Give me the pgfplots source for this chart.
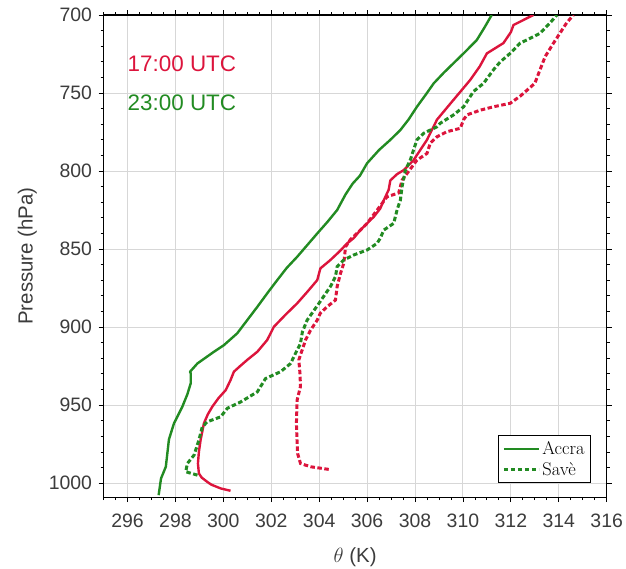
\documentclass[border=0pt]{standalone}
\usepackage{fontspec}
\usepackage{pgfplots}
\pgfplotsset{compat=1.18}
\newfontfamily\lab{Liberation Sans}
\definecolor{crim}{HTML}{DC143C}
\definecolor{fgreen}{HTML}{228B22}
\definecolor{tickgray}{RGB}{60,60,60}
\definecolor{gridgray}{RGB}{215,215,215}

\begin{document}
\begin{tikzpicture}
\begin{axis}[
  scale only axis,
  width=503bp, height=482bp,
  xmin=295, xmax=316,
  ymin=700, ymax=1009,
  y dir=reverse,
  xtick={296,298,...,316},
  ytick={700,750,...,1000},
  minor xtick={295,295.5,...,316},
  minor ytick={700,710,...,1000},
  tick align=outside,
  major tick length=5bp,
  minor tick length=3bp,
  tick style={black, line width=0.8bp},
  axis line style={black, line width=1.2bp},
  grid=major,
  major grid style={gridgray, line width=0.9bp},
  /pgf/number format/assume math mode=true,
  /pgf/number format/1000 sep={},
  ticklabel style={font=\lab\fontsize{19.5}{23}\selectfont, text=tickgray},
  xticklabel style={yshift=-8bp},
  yticklabel style={xshift=-3bp},
  label style={font=\lab\fontsize{20.5}{24}\selectfont, text=tickgray},
  xlabel={$\theta$ (K)},
  ylabel={Pressure (hPa)},
  xlabel style={at={(axis description cs:0.5,0)}, anchor=base, yshift=-65bp},
  ylabel style={yshift=5bp},
  legend style={at={(rel axis cs:0.969,0.029)}, anchor=south east,
    draw=black, line width=0.8bp, fill=white,
    font=\fontsize{18.5}{21}\selectfont,
    inner xsep=4bp, inner ysep=4bp, row sep=2bp},
  legend cell align=left,
  legend image code/.code={\draw[#1] (0bp,0bp) -- (35bp,0bp);},
]

% Accra, 17:00 UTC
\addplot[crim, line width=2.4bp, line join=round, forget plot] coordinates {
(300.3,1004.9) (299.89,1003.4) (299.5,1001) (299.33,999.2) (299.1,996.5)
(298.98,993.8) (298.94,987.4) (298.98,980) (299.05,972.4) (299.19,961.7)
(299.35,956) (299.54,951) (299.8,945.5) (300.1,940.4) (300.3,934)
(300.44,928.6) (300.7,925) (301.0,921) (301.42,915.8) (301.83,908.3)
(302.11,899.8) (302.6,892) (303.08,884.8) (303.5,877.5) (303.92,869.9)
(304.05,862.4) (304.47,857) (304.85,851.5) (305.17,846.3) (305.44,843)
(305.72,837.8) (306.28,829.3) (306.55,824) (306.7,818.6) (306.9,812)
(306.97,806) (307.25,802) (307.53,799.4) (307.94,793) (308.5,780)
(308.92,767) (309.6,754.5) (310.3,741.7) (310.7,733) (311.0,724.6)
(311.69,718) (312.0,711) (312.11,706.4) (312.94,700)
};

% Accra, 23:00 UTC
\addplot[fgreen, line width=2.4bp, line join=round, forget plot] coordinates {
(297.3,1007.7) (297.4,997) (297.6,989.5) (297.73,972) (297.94,961.7)
(298.29,951) (298.5,943) (298.64,936) (298.64,929.7) (298.61,928.6)
(298.92,923.3) (299.61,915.8) (300.03,911.5) (300.58,904) (301.0,895.5)
(301.42,887) (301.85,878) (302.25,869.9) (302.65,862) (303.08,855)
(303.5,847.5) (303.92,840) (304.35,832.5) (304.75,825) (305.1,815)
(305.4,808) (305.7,803) (306.0,795) (306.5,786.5) (306.97,780)
(307.39,773.7) (307.73,767) (308.08,758.8) (308.45,751) (308.78,743.8)
(309.2,737) (309.6,731) (310.1,723.5) (310.58,716) (310.9,708) (311.2,700)
};

% Save, 17:00 UTC
\addplot[crim, line width=3bp, dash pattern=on 4.5bp off 2.5bp, forget plot] coordinates {
(304.4,991.2) (303.64,989.5) (303.22,987.4) (303.1,981) (303.08,974.6)
(303.05,961.7) (303.08,946.8) (303.22,938) (303.2,930) (303.15,921)
(303.29,914.7) (303.43,908.3) (303.64,902) (303.92,895.5) (304.05,891)
(304.33,887) (304.68,882.7) (304.75,874) (304.89,865.6) (305.03,859)
(305.1,848.5) (305.3,844) (305.72,837.8) (306.0,833.5) (306.42,825)
(306.83,816.5) (307.32,814) (307.46,805.8) (307.67,801.5) (308.08,793)
(308.5,788.7) (308.64,782) (308.92,778) (309.33,774.8) (309.89,772.6)
(310.03,767) (310.17,764) (310.72,761) (311.28,758.8) (311.97,756.6)
(312.39,752) (313.0,743.8) (313.22,735) (313.43,726.7) (313.78,718)
(314.33,705) (314.61,700)
};

% Save, 23:00 UTC
\addplot[fgreen, line width=3bp, dash pattern=on 4.5bp off 2.5bp, forget plot] coordinates {
(298.92,994.9) (298.43,992.7) (298.5,987.4) (298.78,982) (298.98,972.4)
(299.12,964) (299.33,960.7) (299.89,957.5) (300.17,952) (300.72,948)
(301.42,941.5) (301.76,933) (302.39,928.6) (302.81,923.3) (303.01,916.9)
(303.22,910.5) (303.3,903) (303.5,895.5) (303.99,884.8) (304.47,874)
(304.68,867.7) (304.75,861.3) (305.03,857) (305.44,853.8) (306.0,850.6)
(306.42,846.3) (306.55,843) (306.7,837.8) (307.11,833.5) (307.25,825)
(307.39,818.6) (307.46,810) (307.6,799.4) (307.8,793) (307.94,786.5)
(308.08,780) (308.36,775.8) (308.92,771.6) (309.05,769.4) (309.61,764)
(310.03,758.8) (310.44,749) (310.86,743.8) (311.28,735) (311.56,730)
(311.97,724.6) (312.39,718) (312.8,715) (313.22,711.7) (313.64,705)
(313.92,700)
};

\addlegendimage{fgreen, line width=2.4bp}
\addlegendentry{Accra}
\addlegendimage{fgreen, line width=3bp, dash pattern=on 4.5bp off 2.5bp}
\addlegendentry{Savè}

\node[anchor=base west, inner sep=0pt, text=crim, font=\lab\fontsize{22.5}{26}\selectfont]
  at (axis cs:296.0,736.3) {17:00 UTC};
\node[anchor=base west, inner sep=0pt, text=fgreen, font=\lab\fontsize{22.5}{26}\selectfont]
  at (axis cs:296.0,760.9) {23:00 UTC};
\end{axis}
\pgfresetboundingbox
\path ([shift={(-103.5bp,-71bp)}]current axis.south west)
  rectangle ([shift={(19.3bp,15bp)}]current axis.north east);
\end{tikzpicture}
\end{document}
